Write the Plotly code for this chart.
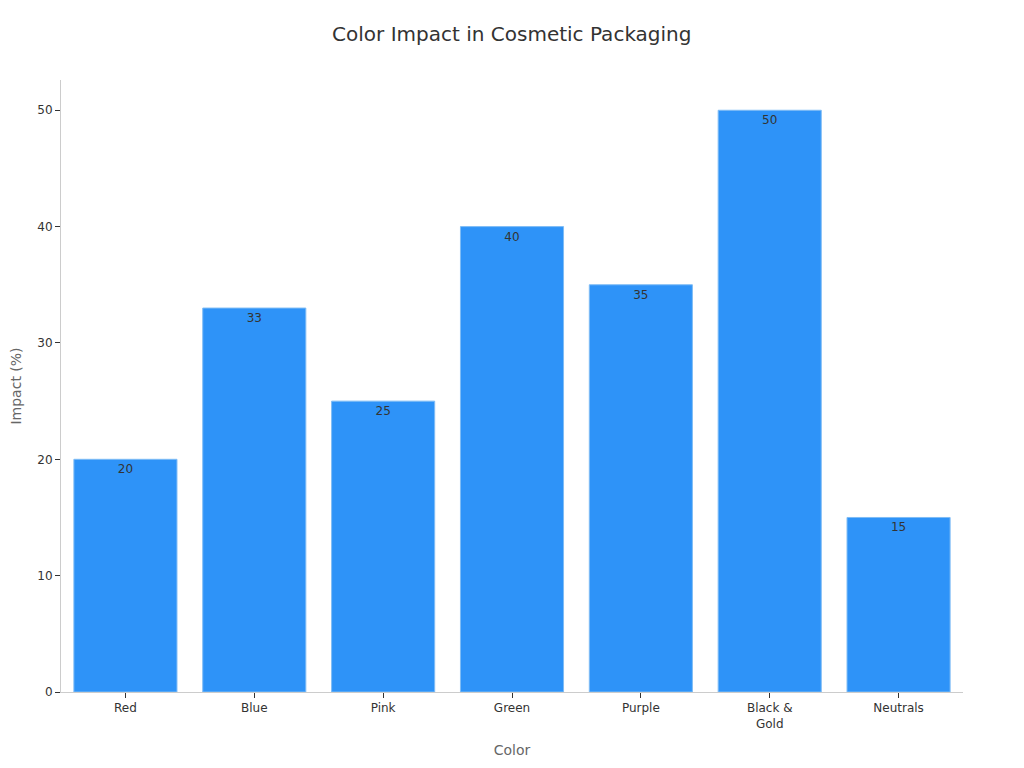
import plotly.graph_objects as go

colors = ["Red", "Blue", "Pink", "Green", "Purple", "Black &<br>Gold", "Neutrals"]
impact = [20, 33, 25, 40, 35, 50, 15]

fig = go.Figure(
    go.Bar(
        x=colors,
        y=impact,
        text=impact,
        textposition="inside",
        insidetextanchor="end",
        textfont={"color": "#333333", "size": 12},
        marker={"color": "#2E93F8", "line": {"color": "#7FBCF5", "width": 1}},
        showlegend=False,
    )
)
fig.update_layout(
    title={
        "text": "Color Impact in Cosmetic Packaging",
        "x": 0.492,
        "y": 0.975,
        "xanchor": "center",
        "font": {"size": 20, "color": "#333333"},
    },
    font={"family": "DejaVu Sans", "color": "#333333", "size": 12},
    template="plotly_white",
    width=1024,
    height=768,
    bargap=0.2,
    margin={"l": 53, "r": 69, "t": 72, "b": 84},
    plot_bgcolor="white",
)
fig.update_xaxes(
    title_text="Color",
    title_font={"size": 14, "color": "#666666"},
    showline=True,
    linecolor="#cccccc",
    ticks="outside",
    ticklen=5,
    tickcolor="#333333",
    showgrid=False,
    automargin=False,
)
fig.update_yaxes(
    title_text="Impact (%)",
    title_font={"size": 14, "color": "#666666"},
    showline=True,
    linecolor="#cccccc",
    ticks="outside",
    ticklen=5,
    tickcolor="#333333",
    showgrid=False,
    zeroline=False,
    range=[0, 52.6],
    automargin=False,
)
fig.write_html("out.html")
